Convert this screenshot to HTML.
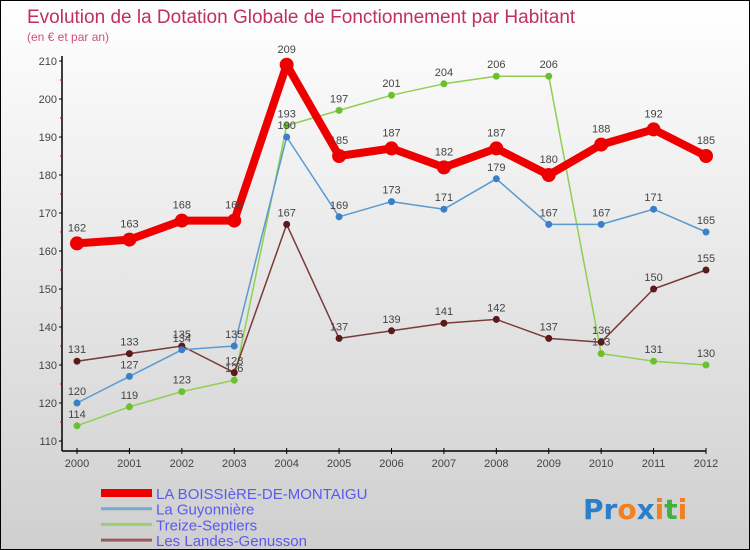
<!DOCTYPE html>
<html><head><meta charset="utf-8"><style>
body{margin:0}
#c{width:750px;height:550px;position:relative;box-sizing:border-box;border:1px solid #000;background:linear-gradient(#fff,#cfcfcf);font-family:"Liberation Sans",sans-serif;overflow:hidden}
svg{position:absolute;left:0;top:0}
</style></head><body>
<div id="c">
<svg id="s" width="750" height="550">
<text x="26" y="22" font-size="19" fill="#c0305a">Evolution de la Dotation Globale de Fonctionnement par Habitant</text>
<text x="26" y="40" font-size="12" fill="#d05080">(en € et par an)</text>
<g id="axes"></g><g id="series"></g><g id="legend"></g>
<g font-size="28" font-family="'DejaVu Sans',sans-serif" font-weight="bold">
<text x="582" y="518" fill="#2a7fc8">Pr<tspan fill="#f08020">o</tspan><tspan fill="#2a7fc8">x</tspan><tspan fill="#f08020">i</tspan><tspan fill="#40b040">t</tspan><tspan fill="#f08020">i</tspan></text>
</g>
</svg></div>
<script>
const years=[2000,2001,2002,2003,2004,2005,2006,2007,2008,2009,2010,2011,2012];
const boissiere=[162,163,168,168,209,185,187,182,187,180,188,192,185];
const guyonniere=[120,127,134,135,190,169,173,171,179,167,167,171,165];
const treize=[114,119,123,126,193,197,201,204,206,206,133,131,130];
const landes=[131,133,135,128,167,137,139,141,142,137,136,150,155];
const yTicks=[110,120,130,140,150,160,170,180,190,200,210];
const seriesNames=["LA BOISSIèRE-DE-MONTAIGU","La Guyonnière","Treize-Septiers","Les Landes-Genusson"];
const NS="http://www.w3.org/2000/svg";
const X=i=>76+i*(705-76)/12;
const Y=v=>440-(v-110)*3.8;
function mk(t,a,p){const e=document.createElementNS(NS,t);for(const k in a)e.setAttribute(k,a[k]);p.appendChild(e);return e;}
const ax=document.getElementById('axes');
let e=mk('line',{x1:61,y1:55,x2:61,y2:450,stroke:'#000','stroke-width':1.5},ax);


e=mk('line',{x1:61,y1:450,x2:705,y2:450,stroke:'#000','stroke-width':1.5},ax);


yTicks.forEach((v,i)=>{
 mk('line',{x1:58,y1:Y(v),x2:61,y2:Y(v),stroke:'#000'},ax);
 if(i<yTicks.length-1)mk('line',{x1:59,y1:Y(v+5),x2:61,y2:Y(v+5),stroke:'#d00'},ax);
 const t=mk('text',{x:56,y:Y(v)+4,'text-anchor':'end','font-size':11,fill:'#444'},ax);t.textContent=v;
 
 
});
years.forEach((y,i)=>{
 mk('line',{x1:X(i),y1:447,x2:X(i),y2:453,stroke:'#000'},ax);
 const t=mk('text',{x:X(i),y:466,'text-anchor':'middle','font-size':11,fill:'#444'},ax);t.textContent=y;
 
 
});
const sg=document.getElementById('series');
const defs=[[treize,'#8ed050','#6cc030',1.5,3.5,'treize-septiers'],[landes,'#7a3a3a','#5a1a1a',1.5,3.5,'les-landes-genusson'],[guyonniere,'#5a9ad0','#3a80c8',1.5,3.5,'la-guyonniere'],[boissiere,'#ee0000','#ee0000',8,7,'la-boissiere']];
defs.forEach(([d,lc,pc,w,r,n])=>{
 const g=mk('g',{},sg);
 
 
 const p=mk('polyline',{points:d.map((v,i)=>X(i)+','+Y(v)).join(' '),fill:'none',stroke:lc,'stroke-width':w,'stroke-linejoin':'round'},g);
 
 
 d.forEach((v,i)=>{
  const c=mk('circle',{cx:X(i),cy:Y(v),r:r,fill:pc},g);
  
  
  const t=mk('text',{x:X(i),y:Y(v)-(w>2?12:8),'text-anchor':'middle','font-size':11,fill:'#444'},g);t.textContent=v;
  
  
 });
});
const lg=document.getElementById('legend');
const lcol=['#ee0000','#7aaad0','#98d070','#9a5a5a'],lw=[8,3,3,3];
seriesNames.forEach((n,i)=>{
 const y=492+i*15.7;
 const g=mk('g',{},lg);
 
 
 mk('line',{x1:100,y1:y,x2:151,y2:y,stroke:lcol[i],'stroke-width':lw[i]},g);
 const t=mk('text',{x:155,y:y+6,'font-size':15,fill:'#5a5af0'},g);t.textContent=n;
});
</script>
</body></html>
